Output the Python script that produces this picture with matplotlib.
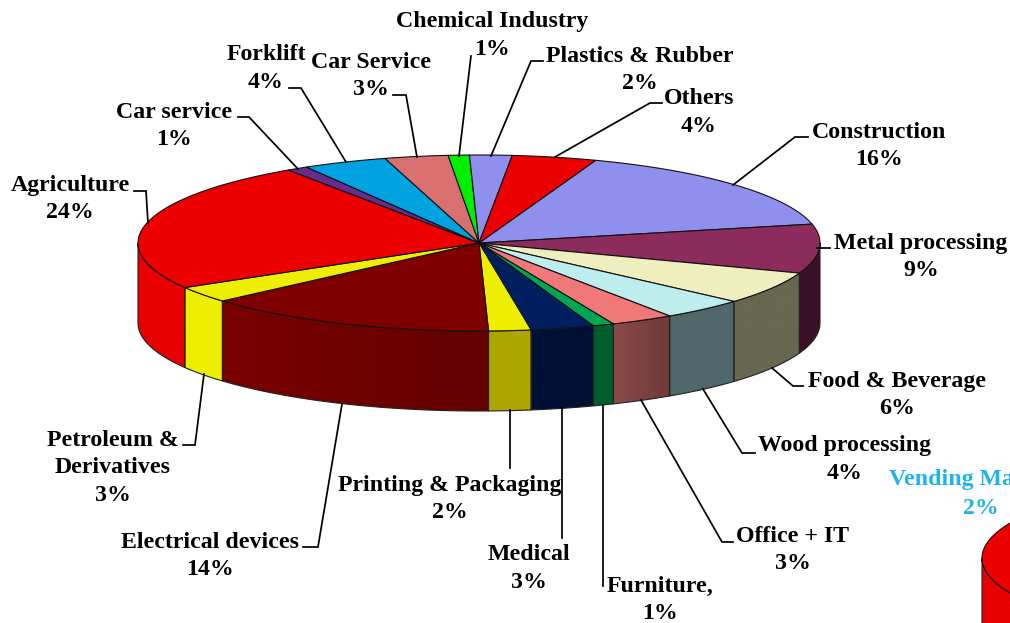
#!/usr/bin/env python3
"""Sector shares as a hand-built 3D pie (Excel look), saved to out.png."""

import numpy as np
import matplotlib
matplotlib.use("Agg")
import matplotlib.pyplot as plt
import matplotlib.colors as mcolors
from matplotlib.patches import Polygon

# data, clockwise from the Construction slice
sectors = ["Construction", "Metal processing", "Food & Beverage", "Wood processing",
           "Office + IT", "Furniture,", "Medical", "Printing & Packaging",
           "Electrical devices", "Petroleum &\nDerivatives", "Agriculture",
           "Car service", "Forklift", "Car Service", "Chemical Industry",
           "Plastics & Rubber", "Others"]
shares = [16, 9, 6, 4, 3, 1, 3, 2, 14, 3, 24, 1, 4, 3, 1, 2, 4]

top_colors = ["#8F8FEE", "#8B2C5C", "#EEEEBE", "#BDEDED", "#F07878", "#00A651",
              "#001F5F", "#EEEE00", "#800000", "#EEEE00", "#EE0000", "#662D91",
              "#00A2DF", "#D97070", "#00EE00", "#8F8FEE", "#EE0000"]
# wall colours, left and right end of each slice (only the front ones get seen)
wall_left = ["#8F8FEE", "#3A1028", "#686850", "#50686A", "#8B4A4A", "#005E2C",
             "#001035", "#ADA600", "#7A0000", "#EEEE00", "#E80000", "#662D91",
             "#00A2DF", "#D97070", "#00EE00", "#8F8FEE", "#EE0000"]
wall_right = ["#8F8FEE", "#3A1028", "#686850", "#50686A", "#6E3A3A", "#005E2C",
              "#001035", "#ADA600", "#640000", "#EEEE00", "#E80000", "#662D91",
              "#00A2DF", "#D97070", "#00EE00", "#8F8FEE", "#EE0000"]

# label centre (x, y of first line) and leader polyline, in pixels
label_pos = [(879, 132), (921, 243), (897, 381), (845, 446), (793, 536), (660, 586),
             (529, 555), (450, 485), (210, 542), (113, 440), (70, 185), (174, 112),
             (266, 55), (371, 62), (492, 22), (640, 56), (699, 99)]
leaders = [
    [(733, 185), (795, 137), (808, 137)],
    [(817, 248), (830, 248)],
    [(772, 368), (793, 386), (803, 386)],
    [(703, 389), (742, 453), (755, 453)],
    [(641, 400), (722, 542), (733, 542)],
    [(603, 405), (603, 586)],
    [(562, 408), (562, 538)],
    [(510, 410), (510, 468)],
    [(342, 404), (318, 547), (303, 547)],
    [(204, 374), (195, 445), (183, 445)],
    [(148, 223), (146, 191), (134, 191)],
    [(298, 169), (249, 117), (238, 117)],
    [(346, 162), (301, 88), (289, 88)],
    [(417, 157), (406, 95), (393, 95)],
    [(459, 156), (471, 56)],
    [(491, 156), (531, 61), (543, 61)],
    [(555, 157), (650, 103), (662, 103)],
]

FONT = "Liberation Serif"
FONT_SIZE = 17.2
START_DEG = 20.0   # Construction starts here, clockwise from 12 o'clock
RX, RY, DEPTH = 341, 88, 80


def rim(cx, cy, a0, a1, n=40):
    """Points along the top ellipse between two clockwise-from-top angles."""
    t = np.radians(np.linspace(a0, a1, n))
    return np.column_stack([cx + RX * np.sin(t), cy - RY * np.cos(t)])


def draw_pie(ax, cx, cy):
    edges = START_DEG + np.cumsum([0] + shares) * 3.6

    # walls first, only the part facing us (90..270 deg)
    for i in range(len(shares)):
        a0, a1 = max(edges[i], 90), min(edges[i + 1], 270)
        if a1 <= a0:
            continue
        pts = rim(cx, cy, a0, a1, 60)
        wall = np.vstack([pts, pts[::-1] + [0, DEPTH]])

        # horizontal gradient, clipped to the wall outline
        c0 = np.array(mcolors.to_rgb(wall_left[i]))
        c1 = np.array(mcolors.to_rgb(wall_right[i]))
        ramp = np.linspace(c0, c1, 32)[np.newaxis, :, :]
        im = ax.imshow(ramp, extent=[wall[:, 0].min(), wall[:, 0].max(),
                                     wall[:, 1].max(), wall[:, 1].min()],
                       aspect="auto", interpolation="bilinear", zorder=2)
        outline = Polygon(wall, closed=True, fc="none", ec="#222222", lw=0.8, zorder=3)
        ax.add_patch(outline)
        im.set_clip_path(outline)

    # top faces
    for i in range(len(shares)):
        pts = rim(cx, cy, edges[i], edges[i + 1], 60)
        wedge = np.vstack([[cx, cy], pts])
        ax.add_patch(Polygon(wedge, closed=True, fc=top_colors[i], ec="#111111",
                             lw=0.8, joinstyle="round", zorder=4))


fig = plt.figure(figsize=(10.10, 6.23), dpi=100, facecolor="white")
ax = fig.add_axes([0, 0, 1, 1])

draw_pie(ax, 479, 243)
draw_pie(ax, 1323, 558)   # next chart on the page, cut off by the edge

# imshow moves the limits, so set them afterwards
ax.set_xlim(0, 1010)
ax.set_ylim(623, 0)
ax.axis("off")

for name, share, (x, y), line in zip(sectors, shares, label_pos, leaders):
    xs, ys = zip(*line)
    ax.plot(xs, ys, color="black", lw=1.25, solid_joinstyle="miter", zorder=5)
    rows = name.split("\n") + [f"{share}%"]
    for k, row in enumerate(rows):
        ax.text(x, y + k * 27.7, row, ha="center", va="center", family=FONT,
                fontweight="bold", fontsize=FONT_SIZE, color="black", zorder=6)

ax.text(984, 480, "Vending Machines", ha="center", va="center", family=FONT,
        fontweight="bold", fontsize=FONT_SIZE, color="#1FB4F0", zorder=6)
ax.text(981, 508, "2%", ha="center", va="center", family=FONT,
        fontweight="bold", fontsize=FONT_SIZE, color="#1FB4F0", zorder=6)

fig.savefig("out.png", dpi=100, facecolor="white")
